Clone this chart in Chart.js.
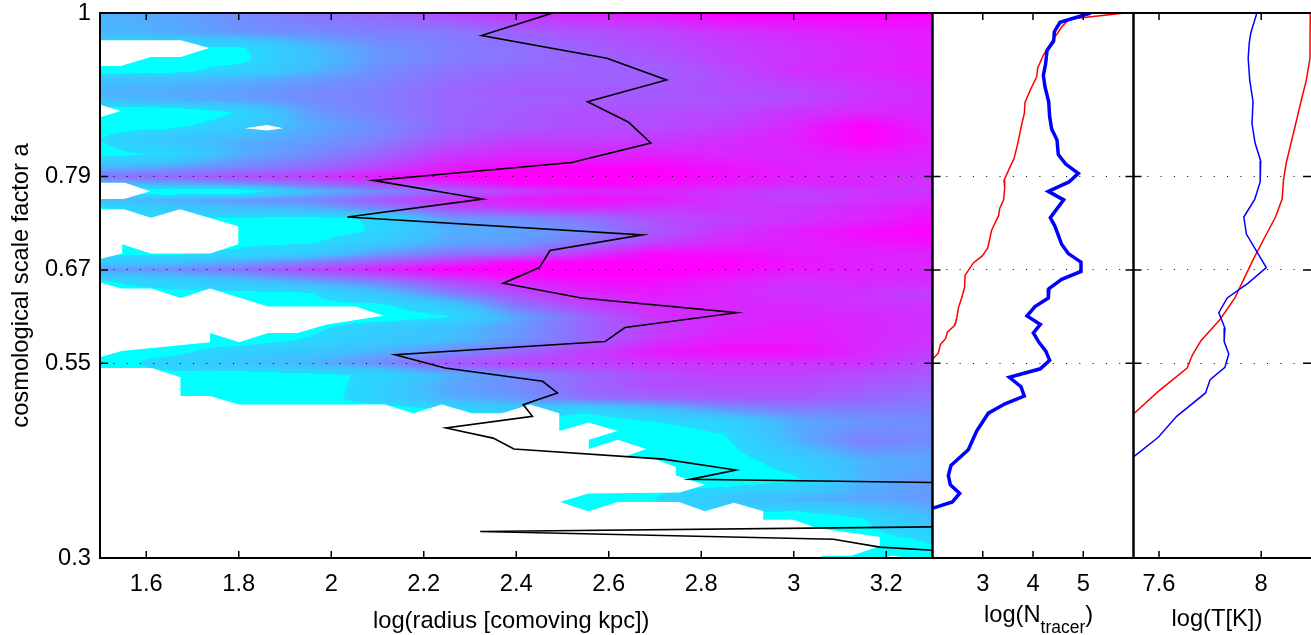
<!DOCTYPE html>
<html>
<head>
<meta charset="utf-8">
<script src="https://cdn.jsdelivr.net/npm/chart.js@4/dist/chart.umd.min.js"></script>
<style>
  html, body { margin: 0; background: #fff; overflow: hidden; }
  canvas { position: absolute; left: 0; top: 0; }
</style>
</head>
<body>
<canvas id="mapChart" width="1311" height="635"></canvas>
<canvas id="tracerChart" width="1311" height="635"></canvas>
<canvas id="tempChart" width="1311" height="635"></canvas>
<script>
// tick labels
const radiusTicks = [1.6, 1.8, 2, 2.2, 2.4, 2.6, 2.8, 3, 3.2];
const scaleTicks = [0.3, 0.55, 0.67, 0.79, 1];
const tracerTicks = [3, 4, 5];
const tempTicks = [7.6, 8];

// heat map, read by eye. 0 = cyan, 1 = magenta, outside that it saturates
const heatRadius = [1.5, 1.65, 1.8, 1.95, 2.1, 2.25, 2.4, 2.55, 2.7, 2.85, 3, 3.15, 3.3];
const heatScale = [1, .975, .955, .94, .925, .915, .9, .888, .872, .855, .837, .818, .8, .79, .78, .771, .76, .75, .736, .72, .705, .69, .68, .67, .655, .64, .625, .61, .595, .58, .565, .55, .535, .52, .505, .49, .475, .45, .425, .4, .375, .35, .325, .3];
const heatRows = [
  [.3, .35, .45, .55, .6, .7, .8, .85, .9, 1, 1, 1, 1],
  [.28, .32, .42, .45, .5, .52, .62, .68, .72, .8, .85, .88, .9],
  [0, 0, -.03, .25, .42, .5, .55, .62, .7, .75, .8, .85, .9],
  [-.1, -.05, -.05, .22, .4, .5, .55, .62, .65, .75, .8, .85, .9],
  [-.1, -.05, .08, .28, .45, .55, .6, .62, .62, .7, .82, .85, .9],
  [.22, .25, .3, .38, .47, .57, .62, .63, .63, .7, .78, .82, .87],
  [.3, .33, .38, .45, .5, .6, .65, .65, .65, .7, .72, .8, .85],
  [.25, .3, .36, .45, .5, .6, .62, .65, .65, .67, .72, .8, .85],
  [-.25, -.2, .02, .38, .5, .6, .65, .7, .7, .72, .8, .85, .85],
  [-.05, -.05, .12, .32, .45, .6, .65, .7, .7, .75, .85, 1, .85],
  [0, .2, .3, .38, .5, .65, .75, .75, .78, .82, .88, 1, .9],
  [-.05, .03, .32, .45, .6, .78, .85, .85, .88, .85, .85, .9, .85],
  [.32, .4, .5, .6, .75, .9, 1, 1, 1, .93, .88, .85, .85],
  [.55, .6, .7, .75, .9, 1, 1.05, 1.05, 1.02, .93, .88, .85, .82],
  [.25, .3, .4, .55, .7, .8, .95, 1, .95, .9, .85, .85, .8],
  [-.1, -.2, -.15, .25, .45, .6, .75, .85, .85, .8, .75, .8, .8],
  [.25, .32, .4, .47, .65, .8, .9, .95, .9, .8, .75, .8, .85],
  [-.02, .18, .27, .32, .5, .7, .8, .85, .8, .8, .8, .85, .9],
  [-.02, -.02, -.02, -.05, .02, .4, .45, .55, .7, .75, .8, .85, .95],
  [-.02, -.02, -.05, -.1, .02, .3, .35, .45, .65, .8, .88, .95, 1],
  [-.02, -.02, -.02, -.02, .15, .35, .4, .55, .75, .85, .88, .92, .95],
  [-.02, -.01, .02, .15, .4, .55, .6, .8, .98, .95, .9, .87, .85],
  [.15, .22, .35, .5, .65, .8, .95, 1, 1, 1, .93, .88, .85],
  [.4, .45, .55, .7, .85, 1, 1.05, 1.05, 1.05, .98, .9, .87, .85],
  [-.02, .08, .2, .35, .5, .7, .85, .95, .95, .88, .82, .85, .82],
  [-.05, -.05, -.05, -.02, .2, .5, .7, .85, .9, .85, .8, .8, .75],
  [-.05, -.05, -.05, -.03, -.03, .15, .55, .75, .85, .85, .85, .8, .8],
  [-.05, -.05, -.05, -.05, -.1, -.01, .35, .6, .8, .85, .85, .85, .8],
  [-.05, -.05, -.05, -.05, .12, .22, .4, .6, .75, .85, .9, .85, .8],
  [-.05, -.05, -.1, .02, .15, .25, .4, .6, .8, .9, .9, .85, .8],
  [-.02, -.05, .1, .18, .3, .45, .6, .75, .9, .95, .95, .85, .75],
  [-.1, .08, .2, .3, .45, .65, .75, .75, .8, .8, .8, .8, .7],
  [-.05, -.05, -.1, -.05, .03, .3, .45, .6, .7, .75, .75, .7, .65],
  [-.05, -.05, -.05, -.1, .08, .35, .45, .6, .7, .7, .7, .65, .6],
  [-.05, -.05, -.05, -.1, .1, .3, .4, .55, .6, .65, .65, .6, .55],
  [-.05, -.05, -.05, -.05, -.1, -.02, .15, .04, .2, .4, .5, .5, .5],
  [-.05, -.05, -.05, -.05, -.05, -.05, -.05, -.1, 0, .06, .33, .42, .45],
  [-.05, -.05, -.05, -.05, -.05, -.05, -.05, -.05, -.1, -.03, .3, .5, .45],
  [-.05, -.05, -.05, -.05, -.05, -.05, -.05, -.05, -.05, -.08, .08, .3, .35],
  [-.05, -.05, -.05, -.05, -.05, -.05, -.05, -.05, -.05, -.1, -.03, .3, .4],
  [-.05, -.05, -.05, -.05, -.05, -.05, -.05, -.1, 0, .18, .3, .35, .4],
  [-.05, -.05, -.05, -.05, -.05, -.05, -.05, -.05, -.05, -.05, -.2, -.01, .25],
  [-.05, -.05, -.05, -.05, -.05, -.05, -.05, -.05, -.05, -.05, -.05, -.05, .02],
  [-.05, -.05, -.05, -.05, -.05, -.05, -.05, -.05, -.05, -.05, -.05, -.05, -.05]
];

// regions of the map without data, as [log radius, a]
const gapTop = [[1.5, .965], [1.675, .965], [1.736, .955], [1.675, .9435], [1.61, .9435], [1.545, .932], [1.5, .932]];
const gapNotch = [[1.5, .882], [1.545, .874], [1.5, .866]];
const gapSpeck = [[1.813, .852], [1.861, .856], [1.896, .852], [1.861, .849]];
const gapUpper = [[1.5, .782], [1.554, .782], [1.608, .771], [1.552, .761], [1.5, .761]];
const gapMiddle = [[1.5, .748], [1.552, .748], [1.61, .737], [1.673, .748], [1.799, .726], [1.799, .703], [1.738, .691], [1.61, .691], [1.548, .703], [1.548, .691], [1.5, .684]];
const gapLower = [[1.5, .654], [1.547, .646], [1.612, .646], [1.674, .634], [1.738, .646], [1.863, .623], [2.053, .623], [2.113, .611], [1.99, .6], [1.927, .589], [1.863, .589], [1.801, .577], [1.738, .589], [1.738, .577], [1.547, .566], [1.5, .558]];
const gapBottom = [[1.5, .544], [1.612, .544], [1.674, .532], [1.674, .508], [1.738, .508], [1.801, .497], [2.116, .497], [2.177, .486], [2.239, .497], [2.304, .486], [2.369, .486], [2.43, .497], [2.493, .486], [2.493, .463], [2.556, .474], [2.619, .463], [2.557, .452], [2.557, .44], [2.619, .452], [2.681, .44], [2.633, .43], [2.696, .428], [2.745, .417], [2.745, .406], [2.808, .394], [2.754, .384], [2.556, .383], [2.495, .372], [2.556, .36], [2.619, .372], [2.752, .372], [2.808, .36], [2.871, .371], [2.934, .36], [2.934, .349], [2.999, .349], [3.048, .339], [3.186, .327], [3.186, .315], [3.125, .303], [3.06, .303], [3.06, .3], [1.5, .3]];
const gapCorner = [[3.18, .3], [3.214, .303], [3.255, .3]];
const gaps = [gapTop, gapNotch, gapSpeck, gapUpper, gapMiddle, gapLower, gapBottom, gapCorner];

// black line of the left panel (null = it leaves the panel)
const lineRadius = [2.479, 2.325, 2.596, 2.725, 2.554, 2.642, 2.691, 2.52, 2.091, 2.327, 2.035, 2.673, 2.473, 2.45, 2.372, 2.541, 2.877, 2.635, 2.592, 2.138, 2.246, 2.457, 2.489, 2.415, 2.435, 2.248, 2.35, 2.395, 2.718, 2.875, 2.776, 3.3, null, 3.3, 2.322, 3.086, 3.186, 3.3];
const lineScale = [1, .971, .942, .914, .886, .86, .833, .808, .785, .761, .738, .715, .695, .673, .653, .634, .615, .596, .578, .561, .544, .527, .512, .497, .482, .467, .454, .44, .427, .413, .401, .397, null, .34, .334, .324, .314, .31];

// middle panel
const tracerBlue = [5.148, 4.537, 4.425, 4.411, 4.279, 4.252, 4.206, 4.239, 4.312, 4.331, 4.371, 4.477, 4.504, 4.65, 4.902, 4.716, 4.305, 4.61, 4.345, 4.438, 4.57, 4.703, 4.955, 4.955, 4.57, 4.318, 4.305, 4.04, 3.881, 4.146, 4.007, 4.119, 4.252, 4.332, 4.146, 3.529, 3.761, 3.827, 3.443, 3.111, 2.879, 2.713, 2.368, 2.315, 2.355, 2.541, 2.395, 2.01];
const tracerBlueScale = [1, .988, .976, .964, .952, .935, .92, .905, .886, .867, .851, .837, .818, .806, .794, .783, .771, .76, .737, .726, .703, .691, .68, .668, .658, .646, .634, .623, .611, .6, .589, .577, .566, .554, .543, .532, .52, .508, .498, .486, .463, .439, .419, .406, .394, .383, .372, .364];
const tracerRed = [5.818, 4.716, 4.57, 4.371, 4.206, 4.093, 4.073, 3.96, 3.841, 3.828, 3.768, 3.735, 3.688, 3.622, 3.542, 3.423, 3.436, 3.416, 3.337, 3.317, 3.177, 3.098, 2.991, 2.813, 2.647, 2.64, 2.58, 2.514, 2.481, 2.468, 2.428, 2.295, 2.262, 2.156, 2.116, 2.01];
const tracerRedScale = [1, .992, .982, .963, .946, .929, .918, .903, .885, .871, .855, .844, .83, .813, .802, .785, .775, .76, .749, .74, .721, .698, .688, .679, .663, .648, .634, .621, .607, .604, .598, .59, .582, .574, .563, .556];

// right panel
const tempBlue = [7.983, 7.959, 7.953, 7.949, 7.955, 7.968, 7.964, 7.976, 7.998, 7.996, 7.975, 7.932, 7.942, 8.02, 7.949, 7.867, 7.834, 7.845, 7.858, 7.855, 7.873, 7.858, 7.8, 7.782, 7.669, 7.597, 7.5];
const tempBlueScale = [1, .974, .961, .942, .914, .886, .858, .833, .81, .783, .761, .738, .716, .673, .653, .634, .615, .606, .595, .578, .562, .545, .529, .512, .482, .455, .43];
const tempRed = [8.192, 8.191, 8.177, 8.157, 8.131, 8.099, 8.087, 8.082, 8.056, 8.014, 7.968, 7.936, 7.897, 7.838, 7.764, 7.731, 7.71, 7.597, 7.5];
const tempRedScale = [1, .942, .914, .888, .852, .809, .785, .761, .738, .712, .683, .661, .634, .606, .579, .561, .544, .514, .485];

const FONT = "'Liberation Sans', Arial, sans-serif";
const TEXT_SIZE = 23.7;

function zip(xs, ys) {
  return xs.map((x, i) => ({ x: x, y: ys[i] }));
}

function lineSet(xs, ys, color, width) {
  return { data: zip(xs, ys), showLine: true, borderColor: color, borderWidth: width, pointRadius: 0, order: 0 };
}

function gapSet(pairs) {
  return {
    data: pairs.map(p => ({ x: p[0], y: p[1] })),
    showLine: true, fill: 'shape', backgroundColor: '#fff',
    borderWidth: 0, pointRadius: 0, order: 1
  };
}

// position inside a sorted (or reverse sorted) list of grid coordinates
function gridPos(list, v) {
  let i = 0;
  const dir = list[1] > list[0] ? 1 : -1;
  while (i < list.length - 2 && (list[i + 1] - v) * dir < 0) i++;
  return [i, (v - list[i]) / (list[i + 1] - list[i])];
}

// the reference jumps quickly off flat cyan into blue
function shade(v) {
  if (v <= 0) return 0;
  if (v < 0.25) return 0.15 + v * 0.4;
  return Math.min(1, v);
}

// the map itself, smooth between the grid values
const heatPlugin = {
  id: 'heat',
  beforeDraw(chart) {
    if (!chart.options.plugins.heat.show) return;
    const a = chart.chartArea, xs = chart.scales.x, ys = chart.scales.y;
    const left = Math.round(a.left), top = Math.round(a.top);
    const w = Math.round(a.right) - left, h = Math.round(a.bottom) - top;
    const img = chart.ctx.createImageData(w, h);
    for (let py = 0; py < h; py++) {
      const [r, fr] = gridPos(heatScale, ys.getValueForPixel(top + py + 0.5));
      for (let px = 0; px < w; px++) {
        const [c, fc] = gridPos(heatRadius, xs.getValueForPixel(left + px + 0.5));
        const up = heatRows[r][c] * (1 - fc) + heatRows[r][c + 1] * fc;
        const down = heatRows[r + 1][c] * (1 - fc) + heatRows[r + 1][c + 1] * fc;
        const v = shade(up * (1 - fr) + down * fr);
        const o = (py * w + px) * 4;
        img.data[o] = 255 * v;
        img.data[o + 1] = 255 * (1 - v);
        img.data[o + 2] = 255;
        img.data[o + 3] = 255;
      }
    }
    chart.ctx.putImageData(img, left, top);
  }
};

// box, inward ticks on all sides, and the axis titles
const framePlugin = {
  id: 'frame',
  afterDraw(chart) {
    const opts = chart.options.plugins.frame;
    const ctx = chart.ctx, a = chart.chartArea;
    ctx.save();
    ctx.strokeStyle = '#000';
    ctx.lineWidth = 1.5;
    ctx.beginPath();
    chart.scales.x.ticks.forEach(t => {
      const p = chart.scales.x.getPixelForValue(t.value);
      ctx.moveTo(p, a.top); ctx.lineTo(p, a.top + 7);
      ctx.moveTo(p, a.bottom); ctx.lineTo(p, a.bottom - 7);
    });
    chart.scales.y.ticks.forEach(t => {
      const p = chart.scales.y.getPixelForValue(t.value);
      ctx.moveTo(a.left, p); ctx.lineTo(a.left + 8, p);
      ctx.moveTo(a.right, p); ctx.lineTo(a.right - 8, p);
    });
    ctx.stroke();
    ctx.lineWidth = 2;
    ctx.beginPath();
    ctx.moveTo(a.right, a.top); ctx.lineTo(a.left, a.top); ctx.lineTo(a.left, a.bottom); ctx.lineTo(a.right, a.bottom);
    if (opts.closed) { ctx.lineTo(a.right, a.top); }
    ctx.stroke();

    ctx.fillStyle = '#000';
    ctx.textBaseline = 'alphabetic';
    if (opts.text) {
      ctx.textAlign = 'left';
      let x = opts.textX;
      opts.text.forEach(part => {
        ctx.font = (part.sub ? 17.5 : TEXT_SIZE) + 'px ' + FONT;
        ctx.fillText(part.s, x, part.sub ? opts.textY + 11 : opts.textY);
        x += ctx.measureText(part.s).width;
      });
    }
    if (opts.sideText) {
      ctx.font = TEXT_SIZE + 'px ' + FONT;
      ctx.textAlign = 'center';
      ctx.translate(28, 285.5);
      ctx.rotate(-Math.PI / 2);
      ctx.fillText(opts.sideText, 0, 0);
    }
    ctx.restore();
  }
};

function makePanel(id, pad, xMin, xMax, xTicks, yAxisWidth, datasets, frame, heat) {
  return new Chart(document.getElementById(id), {
    type: 'scatter',
    data: { datasets: datasets },
    plugins: [heatPlugin, framePlugin],
    options: {
      responsive: false,
      animation: false,
      events: [],
      layout: { padding: pad },
      plugins: {
        legend: { display: false },
        tooltip: { enabled: false },
        heat: { show: heat },
        frame: frame
      },
      scales: {
        x: {
          type: 'linear', min: xMin, max: xMax,
          afterBuildTicks: s => { s.ticks = xTicks.map(v => ({ value: v })); },
          afterFit: s => { s.height = 77; s.paddingLeft = 0; s.paddingRight = 0; },
          grid: { display: false, drawTicks: false },
          border: { display: false },
          ticks: {
            padding: 12, color: '#000', maxRotation: 0, autoSkip: false,
            font: { family: FONT, size: TEXT_SIZE }, callback: v => String(v)
          }
        },
        y: {
          type: 'linear', min: 0.3, max: 1,
          afterBuildTicks: s => { s.ticks = scaleTicks.map(v => ({ value: v })); },
          afterFit: s => { s.width = yAxisWidth; s.paddingTop = 0; s.paddingBottom = 0; },
          grid: { drawTicks: false, color: '#000', lineWidth: 1 },
          border: { display: false, dash: [1, 12.3] },
          ticks: {
            display: yAxisWidth > 0, padding: 9, color: '#000', autoSkip: false,
            font: { family: FONT, size: TEXT_SIZE }, callback: v => String(v)
          }
        }
      }
    }
  });
}

makePanel('mapChart', { left: 0, right: 378.5, top: 13, bottom: 0 }, 1.5, 3.3, radiusTicks, 100,
  [lineSet(lineRadius, lineScale, '#000', 1.6)].concat(gaps.map(gapSet)),
  { text: [{ s: 'log(radius [comoving kpc])' }], textX: 373, textY: 628, sideText: 'cosmological scale factor a', closed: true }, true);

makePanel('tracerChart', { left: 932.5, right: 177.5, top: 13, bottom: 0 }, 2, 6, tracerTicks, 0,
  [lineSet(tracerBlue, tracerBlueScale, '#0000ff', 3.5), lineSet(tracerRed, tracerRedScale, '#ff0000', 1.5)],
  { text: [{ s: 'log(N' }, { s: 'tracer', sub: true }, { s: ')' }], textX: 984, textY: 622, closed: true }, false);

makePanel('tempChart', { left: 1133.5, right: 0, top: 13, bottom: 0 }, 7.5, 8.195, tempTicks, 0,
  [lineSet(tempBlue, tempBlueScale, '#0000ff', 1.5), lineSet(tempRed, tempRedScale, '#ff0000', 1.5)],
  { text: [{ s: 'log(T[K])' }], textX: 1171.5, textY: 626, closed: false }, false);
</script>
</body>
</html>
